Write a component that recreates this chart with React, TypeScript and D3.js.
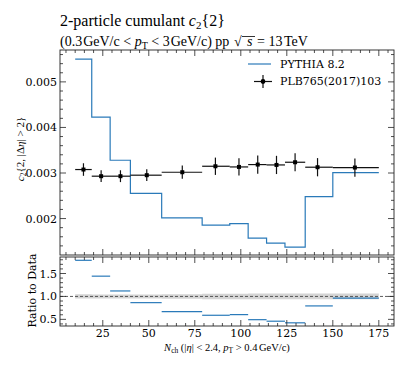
import React from 'react';
import * as d3 from 'd3';

// PYTHIA 8.2 histogram (bin edges + values)
const mcEdges = [10, 19, 29, 40, 57, 79, 94, 104, 114, 124, 135, 150, 175];
const mcVals = [0.0055, 0.004225, 0.00328, 0.002552, 0.002013, 0.001854, 0.00189, 0.00157, 0.00146, 0.001373, 0.00248, 0.00301];

// PLB765(2017)103 data points
const dataX = [14.5, 24.1, 34.6, 48.9, 68.2, 86.2, 99, 109.2, 119.4, 129.5, 141.7, 162];
const dataLo = [10, 19, 30, 40, 57, 79, 94, 104, 114, 124, 135, 150];
const dataHi = [19, 30, 40, 57, 79, 94, 104, 114, 124, 135, 150, 175];
const dataVals = [0.003076, 0.00293, 0.00293, 0.002952, 0.003017, 0.003148, 0.003133, 0.003185, 0.003177, 0.003236, 0.003127, 0.00312];
const dataErr = [0.000138, 0.00013, 0.00013, 0.00013, 0.000145, 0.00019, 0.00019, 0.0002, 0.0002, 0.0002, 0.0002, 0.0002];

const xTicks = [25, 50, 75, 100, 125, 150, 175];
const yTicks = [0.002, 0.003, 0.004, 0.005];
const rTicks = [0.5, 1.0, 1.5];

const W = 407, H = 366;
const L = 60, R = 394, T = 50, MB = 255, RT = 257, RB = 326;
const SERIF = '"Liberation Serif", "Times New Roman", serif';
const DJV = '"DejaVu Serif", serif';
const BLUE = '#2a7ab9';

export default function App() {
  const x = d3.scaleLinear().domain([1.75, 183.25]).range([L, R]);
  const y = d3.scaleLinear().domain([0.0012, 0.0057]).range([MB, T]);
  const yr = d3.scaleLinear().domain([0.355, 1.86]).range([RB, RT]);

  const xMinor = d3.range(5, 184, 5).filter(v => v % 25 !== 0 && x(v) > L && x(v) < R);
  const yMinor = d3.range(0.0012, 0.0057, 0.0002).map(v => +v.toFixed(4)).filter(v => !yTicks.includes(v) && y(v) < MB && y(v) > T);
  const rMinor = d3.range(0.4, 1.9, 0.1).map(v => +v.toFixed(1)).filter(v => !rTicks.includes(v) && yr(v) < RB && yr(v) > RT);

  // step path for MC histogram
  const stepPts: [number, number][] = [];
  mcVals.forEach((v, i) => {
    stepPts.push([x(mcEdges[i]), y(v)]);
    stepPts.push([x(mcEdges[i + 1]), y(v)]);
  });
  const stepPath = d3.line()(stepPts);

  // data uncertainty band in ratio panel
  const bandPts = dataVals.flatMap((v, i) => [
    { x: dataLo[i], lo: 1 - dataErr[i] / v, hi: 1 + dataErr[i] / v },
    { x: dataHi[i], lo: 1 - dataErr[i] / v, hi: 1 + dataErr[i] / v },
  ]);
  const band = d3.area<any>().x(d => x(d.x)).y0(d => yr(d.lo)).y1(d => yr(d.hi))(bandPts);

  const ratios = mcVals.map((v, i) => v / dataVals[i]);

  const tickLine = (key: string, x1: number, y1: number, x2: number, y2: number) => (
    <line key={key} x1={x1} y1={y1} x2={x2} y2={y2} stroke="#222" strokeWidth={0.8} />
  );

  const frameTicks = (top: number, bot: number, ys: number[], ysMinor: number[], pre: string) => (
    <g>
      {xTicks.map(t => [
        tickLine(pre + 'xb' + t, x(t), bot, x(t), bot - 6),
        tickLine(pre + 'xt' + t, x(t), top, x(t), top + 6),
      ])}
      {xMinor.map(t => [
        tickLine(pre + 'mxb' + t, x(t), bot, x(t), bot - 3),
        tickLine(pre + 'mxt' + t, x(t), top, x(t), top + 3),
      ])}
      {ys.map((p, i) => [
        tickLine(pre + 'yl' + i, L, p, L + 6, p),
        tickLine(pre + 'yr' + i, R, p, R - 6, p),
      ])}
      {ysMinor.map((p, i) => [
        tickLine(pre + 'myl' + i, L, p, L + 3, p),
        tickLine(pre + 'myr' + i, R, p, R - 3, p),
      ])}
      <rect x={L} y={top} width={R - L} height={bot - top} fill="none" stroke="#222" strokeWidth={0.9} />
    </g>
  );

  return (
    <svg width={W} height={H} style={{ position: 'absolute', left: 0, top: 0, background: '#fff' }} fontFamily={SERIF}>
      {/* titles */}
      <text x={60} y={26} fontSize={16}>
        2-particle cumulant <tspan fontStyle="italic">c</tspan>
        <tspan fontSize={11} dy={3}>2</tspan>
        <tspan dy={-3}>{'{2}'}</tspan>
      </text>
      <text x={60} y={46} fontSize={14}>
        (0.3<tspan dx={1}>GeV/c</tspan> &lt; <tspan fontStyle="italic">p</tspan>
        <tspan fontSize={10} dy={2.5}>T</tspan>
        <tspan dy={-2.5}> &lt; 3</tspan><tspan dx={1}>GeV/c) pp</tspan>
      </text>
      <text x={234} y={46} fontSize={14}>√</text>
      <text x={247} y={46} fontSize={14} fontStyle="italic">s</text>
      <line x1={242} x2={255} y1={36.5} y2={36.5} stroke="#000" strokeWidth={0.8} />
      <text x={257} y={46} fontSize={14}>= 13<tspan dx={1.5}>TeV</tspan></text>

      {/* main panel */}
      <path d={stepPath!} fill="none" stroke={BLUE} strokeWidth={1.2} />
      {dataX.map((d, i) => (
        <g key={'d' + i}>
          <line x1={x(dataLo[i])} x2={x(dataHi[i])} y1={y(dataVals[i])} y2={y(dataVals[i])} stroke="#111" strokeWidth={1.2} />
          <line x1={x(d)} x2={x(d)} y1={y(dataVals[i] - dataErr[i])} y2={y(dataVals[i] + dataErr[i])} stroke="#111" strokeWidth={1.2} />
          <rect x={x(d) - 2} y={y(dataVals[i]) - 2} width={4} height={4} fill="#000" />
        </g>
      ))}
      {frameTicks(T, MB, yTicks.map(v => y(v)), yMinor.map(v => y(v)), 'm')}
      {yTicks.map(t => (
        <text key={'yl' + t} x={L - 3} y={y(t) + 4} fontSize={11} fontFamily={DJV} textAnchor="end">{d3.format('.3f')(t)}</text>
      ))}
      <text transform={`translate(24,149) rotate(-90)`} fontSize={11} textAnchor="middle">
        <tspan fontStyle="italic">c</tspan><tspan fontSize={7.5} dy={2}>2</tspan>
        <tspan dy={-2}>{'{2, |Δ'}</tspan><tspan fontStyle="italic">η</tspan><tspan>{'| > 2}'}</tspan>
      </text>

      {/* legend */}
      <line x1={248} x2={271} y1={64} y2={64} stroke={BLUE} strokeWidth={1.2} />
      <text x={280} y={67.5} fontSize={11} fontFamily={DJV}>PYTHIA 8.2</text>
      <line x1={254} x2={272} y1={81.5} y2={81.5} stroke="#111" strokeWidth={1.2} />
      <line x1={263} x2={263} y1={75} y2={88} stroke="#111" strokeWidth={1.2} />
      <circle cx={263} cy={81.5} r={2.4} fill="#000" />
      <text x={280} y={85} fontSize={11} fontFamily={DJV}>PLB765(2017)103</text>

      {/* ratio panel */}
      <path d={band!} fill="#d4d4d4" />
      <line x1={L} x2={R} y1={yr(1)} y2={yr(1)} stroke="#333" strokeWidth={0.8} strokeDasharray="3,2" />
      {ratios.map((r, i) => (
        <line key={'r' + i} x1={x(mcEdges[i])} x2={x(mcEdges[i + 1])} y1={yr(r)} y2={yr(r)} stroke={BLUE} strokeWidth={1.2} />
      ))}
      {frameTicks(RT, RB, rTicks.map(v => yr(v)), rMinor.map(v => yr(v)), 'r')}
      {rTicks.map(t => (
        <text key={'rl' + t} x={L - 3} y={yr(t) + 4} fontSize={11} fontFamily={DJV} textAnchor="end">{d3.format('.1f')(t)}</text>
      ))}
      <text transform={`translate(36,${(RT + RB) / 2 - 1}) rotate(-90)`} fontSize={11} fontFamily={DJV} textAnchor="middle">Ratio to Data</text>
      {xTicks.map(t => (
        <text key={'xl' + t} x={x(t)} y={RB + 11} fontSize={11} fontFamily={DJV} textAnchor="middle">{t}</text>
      ))}
      <text x={(L + R) / 2} y={351} fontSize={10.5} textAnchor="middle">
        <tspan fontStyle="italic">N</tspan><tspan fontSize={7.5} dy={2}>ch</tspan>
        <tspan dy={-2}> (|</tspan><tspan fontStyle="italic">η</tspan><tspan>| &lt; 2.4, </tspan>
        <tspan fontStyle="italic">p</tspan><tspan fontSize={7.5} dy={2}>T</tspan>
        <tspan dy={-2}> &gt; 0.4</tspan><tspan dx={1.5}>GeV/c)</tspan>
      </text>
    </svg>
  );
}
